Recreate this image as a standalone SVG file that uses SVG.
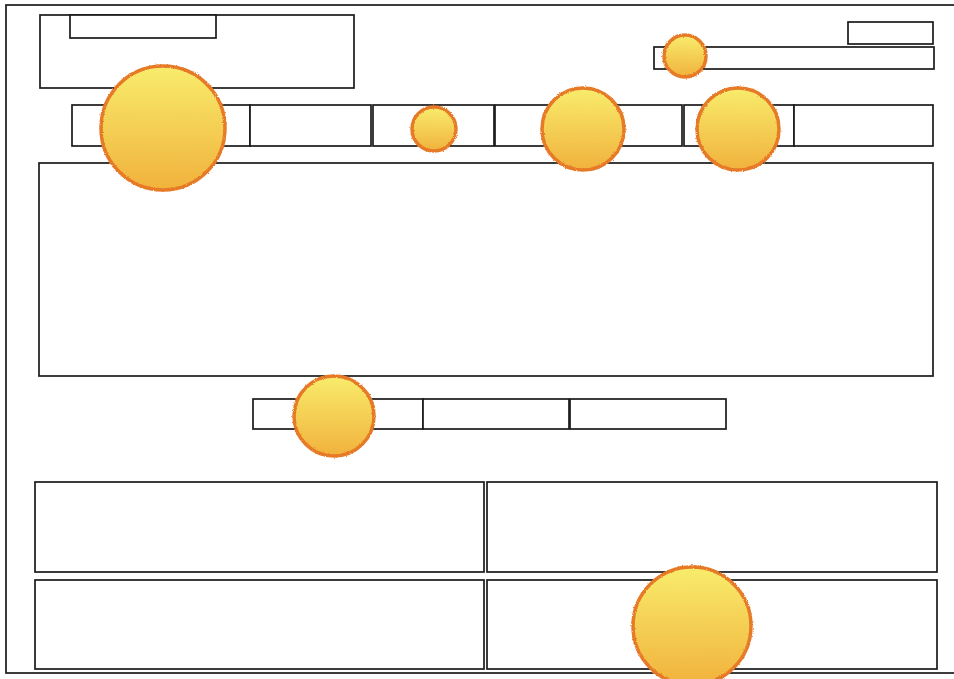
<svg xmlns="http://www.w3.org/2000/svg" width="954" height="679" viewBox="0 0 954 679">
<style>
.box{fill:#fff;stroke:#1a1a1a;stroke-width:1.7}
.sun{fill:url(#sunGrad);stroke:#E67A28;stroke-width:3.5;filter:url(#rough)}
</style>
<defs>
<linearGradient id="sunGrad" x1="0" y1="0" x2="0" y2="1">
<stop offset="0" stop-color="#F8EC6C"/>
<stop offset="1" stop-color="#F1B23C"/>
</linearGradient>
<filter id="rough" x="-10%" y="-10%" width="120%" height="120%">
<feTurbulence type="fractalNoise" baseFrequency="0.9" numOctaves="2" seed="3" result="n"/>
<feDisplacementMap in="SourceGraphic" in2="n" scale="2.5" xChannelSelector="R" yChannelSelector="G"/>
</filter>
</defs>
<rect width="954" height="679" fill="#fff"/>
<g id="page"><rect class="box" x="6" y="5" width="960" height="668"/></g>
<g id="header"><rect class="box" x="40" y="15" width="314" height="73"/></g>
<g id="logo-tab"><rect class="box" x="70" y="15" width="146" height="23"/></g>
<g id="top-link"><rect class="box" x="848" y="22" width="85" height="22"/></g>
<g id="search"><rect class="box" x="654" y="47" width="280" height="22"/></g>
<g id="nav">
<rect class="box" x="72" y="105" width="178" height="41"/>
<rect class="box" x="250" y="105" width="121" height="41"/>
<rect class="box" x="373" y="105" width="121" height="41"/>
<rect class="box" x="495" y="105" width="187" height="41"/>
<rect class="box" x="684" y="105" width="110" height="41"/>
<rect class="box" x="794" y="105" width="139" height="41"/>
</g>
<g id="content"><rect class="box" x="39" y="163" width="894" height="213"/></g>
<g id="pager">
<rect class="box" x="253" y="399" width="170" height="30"/>
<rect class="box" x="423" y="399" width="146" height="30"/>
<rect class="box" x="570" y="399" width="156" height="30"/>
</g>
<g id="panels">
<rect class="box" x="35" y="482" width="449" height="90"/>
<rect class="box" x="487" y="482" width="450" height="90"/>
<rect class="box" x="35" y="580" width="449" height="89"/>
<rect class="box" x="487" y="580" width="450" height="89"/>
</g>
<g id="suns">
<circle class="sun" cx="163" cy="128" r="62"/>
<circle class="sun" cx="685" cy="56" r="21"/>
<circle class="sun" cx="434" cy="129" r="22"/>
<circle class="sun" cx="583" cy="129" r="41"/>
<circle class="sun" cx="738" cy="129" r="41"/>
<circle class="sun" cx="334" cy="416" r="40"/>
<circle class="sun" cx="692" cy="626" r="59"/>
</g>
</svg>
